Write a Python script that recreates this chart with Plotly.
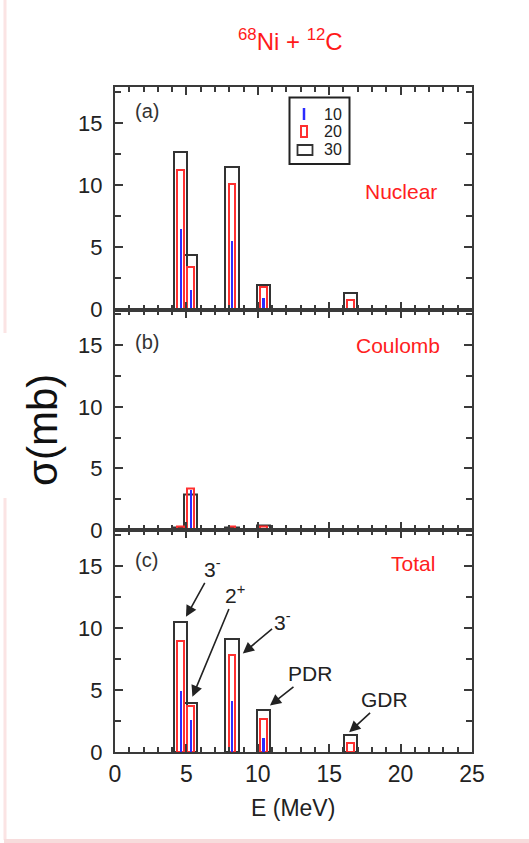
import plotly.graph_objects as go
from plotly.subplots import make_subplots

# ---------------- data ----------------
energies = [4.6, 5.3, 8.2, 10.4, 16.5]          # MeV
series_names = ["10", "20", "30"]

nuclear_10 = [6.5, 1.55, 5.5, 0.9, 0.0]
nuclear_20 = [11.2, 3.45, 10.1, 1.85, 0.8]
nuclear_30 = [12.7, 4.35, 11.45, 1.95, 1.35]

coulomb_10 = [0.15, 3.25, 0.1, 0.05, 0.0]
coulomb_20 = [0.3, 3.35, 0.3, 0.25, 0.0]
coulomb_30 = [0.2, 2.9, 0.2, 0.35, 0.0]

total_10 = [4.95, 2.55, 4.1, 1.1, 0.0]
total_20 = [8.95, 3.7, 7.8, 2.7, 0.75]
total_30 = [10.45, 3.95, 9.15, 3.35, 1.35]

panel_labels = ["(a)", "(b)", "(c)"]
panel_names = ["Nuclear", "Coulomb", "Total"]
x_ticks = [0, 5, 10, 15, 20, 25]
y_ticks = [0, 5, 10, 15]

# annotation labels in panel (c): text, text position, arrow tip
peak_labels = ["3<sup>-</sup>", "2<sup>+</sup>", "3<sup>-</sup>", "PDR", "GDR"]
peak_text_x = [6.85, 8.4, 11.7, 13.65, 18.85]
peak_text_y = [14.8, 12.7, 10.6, 6.3, 4.2]
arrow_tip_x = [4.97, 5.42, 8.95, 10.85, 16.4]
arrow_tip_y = [10.9, 4.45, 7.95, 3.75, 1.6]

# ---------------- figure ----------------
W, H = 529, 843
FONT = "Liberation Sans, Arial, Helvetica, sans-serif"
AX_COLOR = "#3a3a3a"
BLUE = "#2b2bff"
RED = "#ff3030"
BLACK = "#333333"

fig = make_subplots(rows=3, cols=1, shared_xaxes=True, vertical_spacing=0)

panels = [
    (nuclear_10, nuclear_20, nuclear_30),
    (coulomb_10, coulomb_20, coulomb_30),
    (total_10, total_20, total_30),
]

for i, (s10, s20, s30) in enumerate(panels):
    row = i + 1
    fig.add_trace(go.Bar(x=energies, y=s30, width=0.93, name=series_names[2],
                         marker=dict(color="rgba(255,255,255,0)",
                                     line=dict(color=BLACK, width=2)),
                         showlegend=False), row=row, col=1)
    fig.add_trace(go.Bar(x=energies, y=s20, width=0.47, name=series_names[1],
                         marker=dict(color="rgba(255,255,255,0)",
                                     line=dict(color=RED, width=2)),
                         showlegend=False), row=row, col=1)
    fig.add_trace(go.Bar(x=energies, y=s10, width=0.15, name=series_names[0],
                         marker=dict(color=BLUE, line=dict(width=0)),
                         showlegend=False), row=row, col=1)

# domains in paper coords (pixel-measured)
x_dom = [115 / W, 472 / W]
y_doms = [
    [1 - 309.5 / H, 1 - 87 / H],
    [1 - 530 / H, 1 - 309.5 / H],
    [1 - 752 / H, 1 - 530 / H],
]

for i in range(3):
    sfx = "" if i == 0 else str(i + 1)
    fig.layout["xaxis" + sfx].update(
        domain=x_dom, range=[0, 25], tickvals=x_ticks, automargin=False,
        showticklabels=(i == 2), ticks="inside", ticklen=8, tickwidth=1.5,
        tickcolor=AX_COLOR, showline=True, linecolor=AX_COLOR, linewidth=2,
        mirror="allticks", showgrid=False, zeroline=False,
        minor=dict(dtick=1, ticks="inside", ticklen=5, tickwidth=1.5,
                   tickcolor=AX_COLOR, showgrid=False),
        tickfont=dict(family=FONT, size=23, color="#222222"),
    )
    fig.layout["yaxis" + sfx].update(
        domain=y_doms[i], range=[0, 17.9], tickvals=y_ticks, automargin=False,
        ticks="inside", ticklen=8, tickwidth=1.5, tickcolor=AX_COLOR,
        showline=True, linecolor=AX_COLOR, linewidth=2, mirror="allticks",
        showgrid=False, zeroline=False, ticklabelstandoff=6,
        minor=dict(dtick=2.5, ticks="inside", ticklen=6, tickwidth=1.5,
                   tickcolor=AX_COLOR, showgrid=False),
        tickfont=dict(family=FONT, size=22, color="#222222"),
    )


def ann(x, y, text, size, color, **kw):
    d = dict(xref="paper", yref="paper", x=x / W, y=1 - y / H, text=text,
             showarrow=False, xanchor="center", yanchor="middle",
             font=dict(family=FONT, size=size, color=color))
    d.update(kw)
    return d


annotations = []
# panel letters and names
name_pos = [(401, 191), (398, 345), (413, 563)]
letter_pos = [(147, 111), (147, 342), (146, 560)]
for i in range(3):
    annotations.append(ann(letter_pos[i][0], letter_pos[i][1], panel_labels[i],
                           20, "#333333"))
    annotations.append(ann(name_pos[i][0], name_pos[i][1], panel_names[i],
                           21, "#ff2020"))

# peak labels with arrows in panel (c)
for t, tx, ty, hx, hy in zip(peak_labels, peak_text_x, peak_text_y,
                             arrow_tip_x, arrow_tip_y):
    annotations.append(dict(xref="x3", yref="y3", x=hx, y=hy,
                            axref="x3", ayref="y3", ax=tx, ay=ty, text=t,
                            showarrow=True, arrowhead=2, arrowsize=1.4,
                            arrowwidth=1.6, arrowcolor="#222222",
                            xanchor="center", yanchor="middle",
                            font=dict(family=FONT, size=21, color="#222222")))

# title
annotations.append(ann(290, 40, "<sup>68</sup>Ni + <sup>12</sup>C", 24, "#ff1a1a"))
# axis titles
annotations.append(ann(293, 808, "E (MeV)", 23, "#222222"))
annotations.append(ann(42, 430, "σ(mb)", 42, "#111111", textangle=-90))

# manual legend
leg_y = [114, 132, 150]
for name, yy in zip(series_names, leg_y):
    annotations.append(ann(333, yy, name, 16, "#222222"))

shapes = [
    # legend frame
    dict(type="rect", xref="paper", yref="paper", x0=289.5 / W, x1=349.5 / W,
         y0=1 - 164 / H, y1=1 - 97.5 / H, line=dict(color="#222222", width=2)),
    # legend symbols
    dict(type="line", xref="paper", yref="paper", x0=304 / W, x1=304 / W,
         y0=1 - 120 / H, y1=1 - 108 / H, line=dict(color=BLUE, width=2.5)),
    dict(type="rect", xref="paper", yref="paper", x0=301 / W, x1=307 / W,
         y0=1 - 137 / H, y1=1 - 126 / H, line=dict(color=RED, width=2)),
    dict(type="rect", xref="paper", yref="paper", x0=297.5 / W, x1=312.5 / W,
         y0=1 - 155 / H, y1=1 - 145 / H, line=dict(color=BLACK, width=1.8)),
    # faint pink page edges
    dict(type="line", xref="paper", yref="paper", x0=5 / W, x1=5 / W,
         y0=1 - 333 / H, y1=1, line=dict(color="#fbe4e4", width=3)),
    dict(type="line", xref="paper", yref="paper", x0=5 / W, x1=5 / W,
         y0=1 - 840 / H, y1=1 - 498 / H, line=dict(color="#fbe4e4", width=3)),
    dict(type="rect", xref="paper", yref="paper", x0=4 / W, x1=1,
         y0=0, y1=1 - 839 / H, line=dict(width=0), fillcolor="#f7dcdc"),
]

fig.update_layout(
    width=W, height=H,
    margin=dict(l=0, r=0, t=0, b=0, pad=0, autoexpand=False),
    paper_bgcolor="white", plot_bgcolor="white",
    barmode="overlay", bargap=0, showlegend=False,
    annotations=annotations, shapes=shapes,
    font=dict(family=FONT),
)

fig.write_html("out.html")
